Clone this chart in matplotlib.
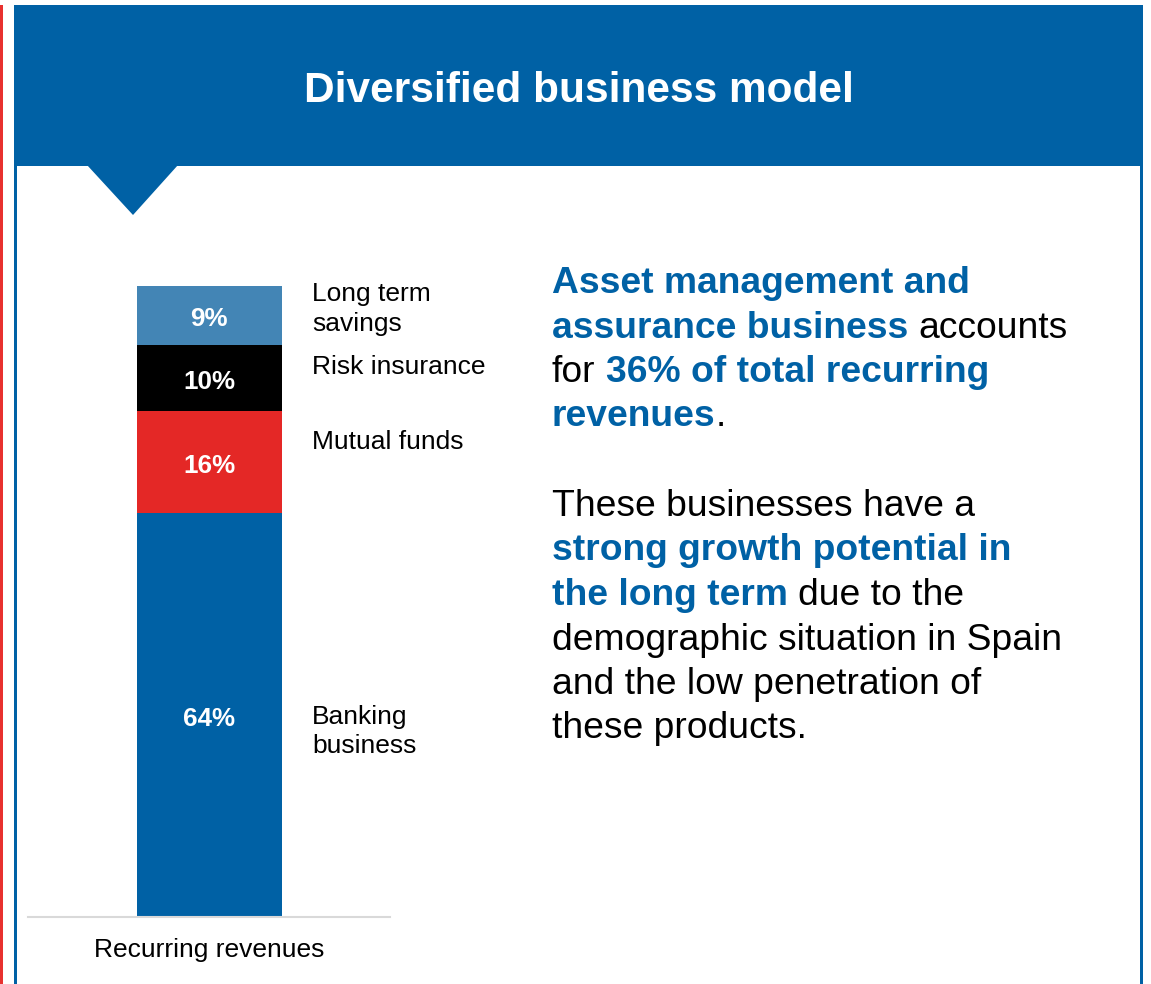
import matplotlib
matplotlib.use("Agg")
import matplotlib.pyplot as plt
from matplotlib.patches import Rectangle, Polygon
import matplotlib.transforms as mtransforms

# ---------------- data ----------------
segments = ["Banking business", "Mutual funds", "Risk insurance", "Long term savings"]
values = [64.0, 16.2, 10.5, 9.3]          # bar heights
value_labels = ["64%", "16%", "10%", "9%"]
segment_label_lines = [["Banking", "business"], ["Mutual funds"], ["Risk insurance"], ["Long term", "savings"]]
category = "Recurring revenues"
title = "Diversified business model"

BLUE = "#0061A5"
LIGHTBLUE = "#4385B5"
BLACK = "#000000"
RED = "#E42826"
seg_colors = [BLUE, RED, BLACK, LIGHTBLUE]

# paragraph runs: (text, highlighted)
para1 = [
    [("Asset management and", True)],
    [("assurance business", True), ("accounts", False)],
    [("for", False), ("36% of total recurring", True)],
    [("revenues", True), (".", False, "nospace")],
]
para2 = [
    [("These businesses have a", False)],
    [("strong growth potential in", True)],
    [("the long term", True), ("due to the", False)],
    [("demographic situation in Spain", False)],
    [("and the low penetration of", False)],
    [("these products.", False)],
]

# ---------------- figure ----------------
W, H = 1151, 984
DPI = 100
FONT = "Liberation Sans"
plt.rcParams["font.family"] = [FONT, "DejaVu Sans"]

fig = plt.figure(figsize=(W / DPI, H / DPI), dpi=DPI)
fig.patch.set_facecolor("white")

# background axes in pixel coordinates (y downward)
bg = fig.add_axes([0, 0, 1, 1])
bg.set_xlim(0, W)
bg.set_ylim(H, 0)
bg.axis("off")

# red line at far left
bg.add_patch(Rectangle((0, 5), 3, H - 5, color="#E8312F", lw=0))
# blue frame lines
bg.add_patch(Rectangle((14, 5), 3.2, H - 5, color=BLUE, lw=0))
bg.add_patch(Rectangle((1140, 5), 3.2, H - 5, color=BLUE, lw=0))
# banner
bg.add_patch(Rectangle((14, 5), 1143 - 14, 166 - 5, color=BLUE, lw=0))
# pointer triangle
bg.add_patch(Polygon([(87, 165), (178, 165), (133, 215)], closed=True, color=BLUE, lw=0))
# title
bg.text(579, 102, title, color="white", fontsize=30.5, fontweight="bold",
        ha="center", va="baseline", family=FONT)

# ---------------- bar chart ----------------
ax_left, ax_right, ax_bottom, ax_top = 28, 390, 917, 286
ax = fig.add_axes([ax_left / W, 1 - ax_bottom / H,
                   (ax_right - ax_left) / W, (ax_bottom - ax_top) / H])
ax.set_facecolor("none")
bar_w = 1.0
half = bar_w / 2 * (ax_right - ax_left) / (282 - 137)
ax.set_xlim(-half, half)
ax.set_ylim(0, sum(values))
bottom = 0
for v, c, lab in zip(values, seg_colors, value_labels):
    ax.bar(0, v, width=bar_w, bottom=bottom, color=c, lw=0, zorder=2)
    tr = mtransforms.offset_copy(ax.transData, fig=fig, x=0, y=-8.0, units="points")
    ax.text(0, bottom + v / 2, lab, transform=tr, ha="center", va="baseline",
            color="white", fontsize=18.7, fontweight="bold", family=FONT, zorder=3)
    bottom += v

for s in ["top", "left", "right"]:
    ax.spines[s].set_visible(False)
ax.spines["bottom"].set_color("#D9D9D9")
ax.spines["bottom"].set_linewidth(1.5)
ax.set_xticks([])
ax.set_yticks([])
ax.text(0.5, -(957 - ax_bottom) / (ax_bottom - ax_top), category, transform=ax.transAxes,
        ha="center", va="baseline", fontsize=19, family=FONT, color="black")

# segment labels (baselines in pixels)
label_baselines = [[724, 753], [449], [374], [301, 331]]
for lines, ys in zip(segment_label_lines, label_baselines):
    for line, y in zip(lines, ys):
        bg.text(312, y, line, fontsize=19, family=FONT, color="black",
                ha="left", va="baseline")

# ---------------- paragraphs ----------------
fig.canvas.draw()
renderer = fig.canvas.get_renderer()

def text_width(s, weight, size):
    t = bg.text(0, 0, s, fontsize=size, fontweight=weight, family=FONT)
    w = t.get_window_extent(renderer).width
    t.remove()
    return w

PSIZE = 26.8
space_w = text_width("a a", "normal", PSIZE) - text_width("aa", "normal", PSIZE)

def draw_para(lines, baseline0, step, x0=552):
    for i, runs in enumerate(lines):
        x = x0
        y = baseline0 + i * step
        for j, run in enumerate(runs):
            s, hi = run[0], run[1]
            nospace = len(run) > 2
            if j > 0 and not nospace:
                x += space_w
            weight = "bold" if hi else "normal"
            color = BLUE if hi else "black"
            t = bg.text(x, y, s, fontsize=PSIZE, fontweight=weight, family=FONT,
                        color=color, ha="left", va="baseline")
            x += t.get_window_extent(renderer).width

draw_para(para1, 293, 44.5)
draw_para(para2, 516, 44.5)

fig.savefig("out.png", dpi=DPI, facecolor="white")
